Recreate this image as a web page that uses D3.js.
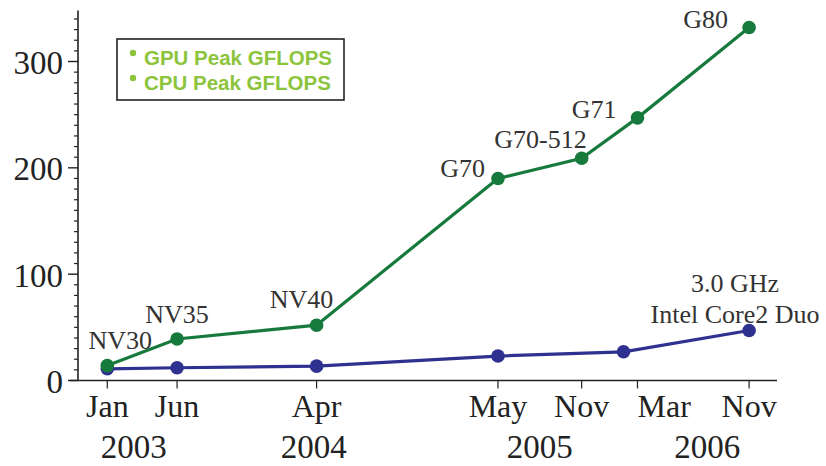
<!DOCTYPE html>
<html>
<head>
<meta charset="utf-8">
<script src="https://cdn.jsdelivr.net/npm/d3@7"></script>
<style>
  html, body { margin: 0; padding: 0; background: #fff; }
  svg { display: block; }
</style>
</head>
<body>
<svg id="chart" width="826" height="466"></svg>
<script>
// ---------- data ----------
// months counted from Jan 2003 (0)
const gpuMonths = [0, 5, 15, 28, 34, 38, 46];
const gpuValues = [14, 39, 52, 190, 209, 247, 332];
const gpuNames  = ["NV30", "NV35", "NV40", "G70", "G70-512", "G71", "G80"];

const cpuMonths = [0, 5, 15, 28, 37, 46];
const cpuValues = [11, 12, 13.5, 23, 27, 47];

const xTickMonths = [0, 5, 15, 28, 34, 38, 46];
const xTickLabels = ["Jan", "Jun", "Apr", "May", "Nov", "Mar", "Nov"];
const yearLabels  = ["2003", "2004", "2005", "2006"];
const yearMonths  = [1.9, 14.8, 31, 43];

const yMajorTicks = [0, 100, 200, 300];
const legendLabels = ["GPU Peak GFLOPS", "CPU Peak GFLOPS"];
const cpuNote = ["3.0 GHz", "Intel Core2 Duo"];

// ---------- layout ----------
const gpuColor = "#177a3d";
const cpuColor = "#2e3190";
const legendColor = "#8cc43c";
// label placement relative to point: [dx, dy, anchor]
const gpuLabelPos = [[13, -17, "middle"], [0, -16, "middle"], [-15, -17, "middle"],
                     [-13, -1, "end"], [5, -10, "end"], [-21, 0, "end"], [-21, 1, "end"]];
const xLabelAnchor = ["middle", "middle", "middle", "middle", "middle", "start", "middle"];

const svg = d3.select("#chart");
const serif = "'Liberation Serif', 'Times New Roman', serif";

const x = d3.scaleLinear().domain([-2.1, 48]).range([78, 777]);
const y = d3.scaleLinear().domain([0, 300]).range([380.5, 61.5]);

// ---------- axes ----------
const axisG = svg.append("g").attr("stroke", "#222").attr("fill", "none");
axisG.append("line")
  .attr("x1", x(-2.1)).attr("x2", x(-2.1))
  .attr("y1", y(0)).attr("y2", y(348))
  .attr("stroke-width", 1.6);
axisG.append("line")
  .attr("x1", x(-2.1) - 8).attr("x2", x(48))
  .attr("y1", y(0)).attr("y2", y(0))
  .attr("stroke-width", 1.6);

const yMinor = d3.range(10, 350, 10).filter(v => v % 100 !== 0);
axisG.selectAll(".ymin").data(yMinor).enter().append("line")
  .attr("x1", x(-2.1) - 4).attr("x2", x(-2.1))
  .attr("y1", d => y(d)).attr("y2", d => y(d))
  .attr("stroke-width", 1.2);
axisG.selectAll(".ymaj").data(yMajorTicks).enter().append("line")
  .attr("x1", x(-2.1) - 10).attr("x2", x(-2.1))
  .attr("y1", d => y(d)).attr("y2", d => y(d))
  .attr("stroke-width", 1.4);

svg.selectAll(".ylab").data(yMajorTicks).enter().append("text")
  .attr("x", 63).attr("y", d => y(d)).attr("dy", "0.38em")
  .attr("text-anchor", "end")
  .attr("font-family", serif).attr("font-size", 33).attr("fill", "#222")
  .text(d => d);

axisG.selectAll(".xt").data(xTickMonths).enter().append("line")
  .attr("x1", d => x(d)).attr("x2", d => x(d))
  .attr("y1", y(0)).attr("y2", y(0) + 8)
  .attr("stroke-width", 1.2);

svg.selectAll(".xlab").data(xTickLabels).enter().append("text")
  .attr("x", (d, i) => x(xTickMonths[i])).attr("y", 417)
  .attr("text-anchor", (d, i) => xLabelAnchor[i])
  .attr("font-family", serif).attr("font-size", 32).attr("fill", "#222")
  .text(d => d);

svg.selectAll(".year").data(yearLabels).enter().append("text")
  .attr("x", (d, i) => x(yearMonths[i])).attr("y", 458)
  .attr("text-anchor", "middle")
  .attr("font-family", serif).attr("font-size", 33).attr("fill", "#222")
  .text(d => d);

// ---------- lines ----------
const gpuData = gpuMonths.map((m, i) => ({m, v: gpuValues[i], name: gpuNames[i]}));
const cpuData = cpuMonths.map((m, i) => ({m, v: cpuValues[i]}));
const line = d3.line().x(d => x(d.m)).y(d => y(d.v));

svg.append("path").datum(cpuData).attr("d", line)
  .attr("fill", "none").attr("stroke", cpuColor).attr("stroke-width", 3.2);
svg.selectAll(".cpuDot").data(cpuData).enter().append("circle")
  .attr("cx", d => x(d.m)).attr("cy", d => y(d.v)).attr("r", 6.8)
  .attr("fill", cpuColor);

svg.append("path").datum(gpuData).attr("d", line)
  .attr("fill", "none").attr("stroke", gpuColor).attr("stroke-width", 3.2);
svg.selectAll(".gpuDot").data(gpuData).enter().append("circle")
  .attr("cx", d => x(d.m)).attr("cy", d => y(d.v)).attr("r", 6.8)
  .attr("fill", gpuColor);

// ---------- labels ----------
svg.selectAll(".gpuLab").data(gpuData).enter().append("text")
  .attr("x", (d, i) => x(d.m) + gpuLabelPos[i][0])
  .attr("y", (d, i) => y(d.v) + gpuLabelPos[i][1])
  .attr("text-anchor", (d, i) => gpuLabelPos[i][2])
  .attr("font-family", serif).attr("font-size", 26).attr("fill", "#333")
  .text(d => d.name);

const lastCpu = cpuData[cpuData.length - 1];
svg.selectAll(".cpuNote").data(cpuNote).enter().append("text")
  .attr("x", x(lastCpu.m) - 14)
  .attr("y", (d, i) => y(lastCpu.v) - 39 + i * 31)
  .attr("text-anchor", "middle")
  .attr("font-family", serif).attr("font-size", 26).attr("fill", "#333")
  .text(d => d);

// ---------- legend ----------
const lg = svg.append("g");
lg.append("rect").attr("x", 117).attr("y", 39).attr("width", 227).attr("height", 61)
  .attr("fill", "#fff").attr("stroke", "#222").attr("stroke-width", 1.6);
lg.selectAll(".ld").data(legendLabels).enter().append("circle")
  .attr("cx", 133).attr("cy", (d, i) => 53 + i * 25).attr("r", 3.2)
  .attr("fill", legendColor);
lg.selectAll(".lt").data(legendLabels).enter().append("text")
  .attr("x", 144).attr("y", (d, i) => 64.5 + i * 25)
  .attr("font-family", "'Liberation Sans', Arial, sans-serif")
  .attr("font-weight", "bold").attr("font-size", 20.5)
  .attr("fill", legendColor)
  .text(d => d);
</script>
</body>
</html>
